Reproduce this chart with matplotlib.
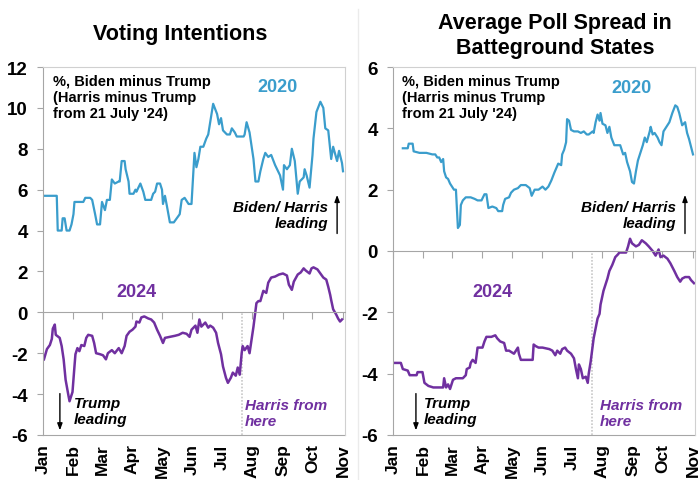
import numpy as np
import pandas as pd
import matplotlib
matplotlib.use('Agg')
import matplotlib.pyplot as plt
from matplotlib.lines import Line2D

plt.rcParams['font.family'] = ['Liberation Sans', 'DejaVu Sans']
plt.rcParams['axes.unicode_minus'] = False

BLUE = '#3A9DCC'
PURPLE = '#7030A0'
GREY = '#A6A6A6'
LIGHT = '#D0D0D0'

# x axis is days since 1 Jan (2020 and 2024 are both leap years)
month_labels = ['Jan', 'Feb', 'Mar', 'Apr', 'May', 'Jun', 'Jul', 'Aug', 'Sep', 'Oct', 'Nov']
month_starts = pd.date_range('2024-01-01', '2024-11-01', freq='MS').dayofyear - 1
harris_day = 202  # 21 July

# national voting intentions, 2020 (Biden minus Trump)
vote20_day = [0, 14, 15, 19, 20, 22, 24, 27, 29, 31,
              32, 41, 43, 48, 50, 53, 55, 58, 60, 63,
              65, 68, 70, 73, 77, 78, 80, 83, 84, 87,
              88, 92, 94, 95, 99, 102, 104, 110, 112, 114,
              116, 119, 121, 122, 124, 126, 129, 133, 136, 139,
              141, 144, 148, 151, 154, 156, 158, 160, 163, 166,
              168, 170, 173, 177, 179, 181, 183, 187, 190, 192,
              195, 197, 204, 205, 207, 210, 214, 216, 219, 221,
              224, 226, 229, 232, 236, 241, 244, 245, 248, 251,
              253, 256, 259, 261, 265, 266, 268, 271, 274, 275,
              278, 282, 285, 287, 290, 293, 295, 299, 301, 304,
              305]
vote20_val = [5.7, 5.7, 4.0, 4.0, 4.6, 4.6, 4.0, 4.0, 4.3, 4.8,
              5.4, 5.4, 5.6, 5.6, 5.5, 4.8, 4.3, 4.3, 5.4, 5.0,
              5.5, 5.5, 6.5, 6.3, 6.4, 6.4, 7.4, 7.4, 7.0, 6.4,
              5.8, 5.8, 6.0, 5.9, 6.3, 5.9, 5.5, 5.5, 5.8, 5.9,
              6.3, 6.3, 6.0, 5.3, 5.7, 5.2, 4.4, 4.4, 4.6, 4.8,
              5.5, 5.6, 5.3, 5.3, 7.8, 7.1, 7.5, 8.1, 8.1, 8.5,
              8.7, 9.3, 10.2, 9.7, 9.2, 9.5, 8.9, 8.7, 8.7, 9.0,
              8.8, 8.6, 8.6, 8.7, 9.3, 8.8, 7.5, 6.4, 6.4, 6.9,
              7.5, 7.8, 7.6, 7.7, 7.2, 6.7, 6.0, 7.2, 7.0, 7.2,
              8.0, 7.4, 5.8, 6.4, 6.6, 7.0, 6.7, 6.1, 7.7, 8.5,
              9.8, 10.3, 10.0, 9.0, 8.9, 7.5, 8.1, 7.4, 7.9, 7.3,
              6.9]

# national voting intentions, 2024 (Biden, then Harris, minus Trump)
vote24_day = [1, 4, 7, 9, 10, 12, 13, 17, 19, 21,
              23, 26, 27, 30, 32, 33, 35, 37, 39, 42,
              44, 46, 50, 52, 54, 58, 61, 64, 66, 70,
              73, 77, 80, 83, 85, 88, 91, 94, 95, 98,
              100, 103, 107, 110, 113, 116, 119, 122, 124, 129,
              134, 138, 142, 146, 149, 151, 155, 157, 159, 161,
              165, 168, 170, 173, 176, 178, 181, 183, 186, 188,
              191, 193, 196, 198, 200, 202, 203, 205, 208, 210,
              212, 214, 217, 219, 221, 224, 227, 229, 232, 236,
              240, 244, 248, 250, 253, 255, 259, 262, 265, 267,
              271, 273, 275, 279, 282, 285, 288, 290, 292, 293,
              295, 298, 300, 302, 304]
vote24_val = [-2.3, -1.8, -1.6, -1.3, -0.8, -0.6, -1.1, -1.25, -1.65, -2.3,
              -3.3, -4.1, -4.35, -3.9, -2.65, -2.05, -1.75, -1.9, -1.6, -1.65,
              -1.25, -1.1, -1.15, -1.5, -2.0, -2.05, -2.1, -2.3, -2.0, -1.85,
              -2.0, -1.75, -2.0, -1.65, -1.15, -0.95, -0.85, -0.7, -0.45, -0.5,
              -0.25, -0.2, -0.3, -0.35, -0.5, -0.85, -1.15, -1.5, -1.25, -1.2,
              -1.15, -1.1, -1.0, -1.05, -1.2, -0.85, -0.65, -1.0, -0.35, -0.7,
              -0.5, -0.75, -0.65, -0.75, -1.0, -1.5, -2.05, -2.65, -3.2, -3.45,
              -3.2, -2.95, -3.1, -2.7, -3.05, -2.0, -1.65, -1.85, -1.65, -2.0,
              -1.35, -0.7, 0.45, 0.55, 0.55, 1.05, 0.95, 1.45, 1.7, 1.75,
              1.85, 1.9, 1.8, 1.35, 1.1, 1.5, 1.85, 1.95, 2.15, 2.05,
              1.9, 2.15, 2.2, 2.1, 1.9, 1.7, 1.6, 1.25, 0.85, 0.6,
              0.15, -0.1, -0.3, -0.45, -0.35]

# battleground states poll spread, 2020
swing20_day = [10, 15, 16, 20, 21, 27, 34, 40, 43, 45,
               47, 49, 51, 52, 54, 56, 58, 60, 62, 64,
               66, 68, 69, 71, 74, 79, 83, 86, 90, 93,
               95, 97, 101, 105, 107, 111, 112, 114, 118, 120,
               123, 127, 130, 135, 139, 141, 144, 148, 152, 155,
               158, 161, 164, 166, 168, 171, 172, 174, 176, 177,
               179, 181, 184, 188, 191, 194, 197, 199, 203, 204,
               206, 208, 210, 211, 213, 216, 218, 220, 222, 225,
               228, 231, 234, 236, 238, 241, 243, 245, 247, 249,
               252, 254, 256, 258, 261, 262, 264, 266, 269, 271,
               273, 275, 279, 281, 284, 287, 289, 291, 294, 297,
               299, 301, 303, 305]
swing20_val = [3.35, 3.35, 3.5, 3.5, 3.25, 3.2, 3.2, 3.15, 3.15, 3.05,
               3.05, 2.9, 3.0, 2.6, 2.4, 2.35, 2.2, 2.1, 2.0, 2.0,
               0.75, 0.85, 1.5, 1.65, 1.75, 1.75, 1.7, 1.65, 1.65, 1.85,
               1.85, 1.4, 1.45, 1.4, 1.3, 1.3, 1.5, 1.7, 1.75, 1.9,
               2.0, 2.05, 2.15, 2.15, 2.05, 1.8, 2.0, 2.0, 2.1, 2.0,
               2.1, 2.3, 2.55, 2.7, 2.85, 2.8, 3.15, 3.3, 3.55, 4.3,
               4.25, 3.95, 3.9, 3.9, 3.85, 3.9, 3.8, 3.8, 3.9, 3.85,
               4.2, 4.45, 4.25, 4.5, 4.15, 4.1, 3.85, 4.05, 3.7, 3.45,
               3.45, 3.45, 3.15, 3.2, 2.9, 2.6, 2.25, 2.2, 2.6, 2.95,
               3.25, 3.45, 3.7, 3.55, 3.9, 4.05, 3.8, 3.85, 3.7, 3.55,
               3.45, 3.9, 4.1, 4.2, 4.5, 4.75, 4.7, 4.5, 4.1, 4.2,
               3.85, 3.65, 3.4, 3.15]

# battleground states poll spread, 2024
swing24_day = [1, 8, 10, 15, 17, 22, 24, 25, 30, 32,
               36, 41, 47, 51, 52, 54, 56, 58, 61, 64,
               71, 74, 75, 78, 79, 81, 84, 86, 91, 93,
               95, 100, 104, 106, 109, 113, 115, 118, 123, 127,
               128, 130, 142, 143, 145, 148, 152, 159, 162, 165,
               167, 170, 172, 175, 177, 181, 184, 186, 188, 189,
               191, 193, 196, 198, 199, 201, 204, 208, 210, 211,
               214, 216, 218, 220, 223, 226, 229, 230, 232, 237,
               239, 241, 243, 247, 250, 253, 257, 260, 264, 267,
               270, 272, 275, 279, 282, 286, 289, 292, 294, 297,
               301, 303, 306]
swing24_val = [-3.65, -3.65, -3.85, -3.9, -4.05, -4.05, -4.05, -3.95, -3.95, -4.3,
               -4.4, -4.45, -4.45, -4.45, -4.15, -4.45, -4.35, -4.5, -4.2, -4.15,
               -4.15, -4.05, -3.85, -3.8, -3.65, -3.55, -3.65, -3.15, -3.15, -2.95,
               -2.8, -2.8, -2.75, -2.85, -2.95, -3.0, -3.25, -3.25, -3.35, -3.15,
               -3.35, -3.55, -3.55, -3.05, -3.1, -3.15, -3.15, -3.2, -3.25, -3.4,
               -3.25, -3.35, -3.2, -3.15, -3.25, -3.35, -3.5, -3.85, -4.15, -3.7,
               -3.85, -4.15, -4.1, -4.3, -4.0, -3.6, -2.85, -2.2, -2.05, -1.75,
               -1.3, -1.1, -0.9, -0.65, -0.45, -0.2, -0.1, -0.05, -0.05, -0.05,
               0.15, 0.4, 0.25, 0.15, 0.2, 0.35, 0.25, 0.15, 0.0, -0.15,
               0.05, -0.2, -0.15, -0.25, -0.4, -0.65, -0.85, -1.0, -0.9, -0.85,
               -0.85, -0.95, -1.05]

note = "%, Biden minus Trump\n(Harris minus Trump\nfrom 21 July '24)"


def style_panel(ax, ymin, ymax):
    ax.set_xlim(0, 307)
    ax.set_ylim(ymin, ymax)
    ax.set_yticks(np.arange(ymin, ymax + 1, 2))
    ax.set_yticklabels([str(v) for v in np.arange(ymin, ymax + 1, 2)])
    ax.tick_params(axis='y', direction='out', length=4.5, width=0.8, color=GREY,
                   labelsize=13.5, pad=6.5)
    for lab in ax.get_yticklabels():
        lab.set_fontweight('bold')

    # the category axis crosses at zero, ticks hang down from it
    ax.spines['bottom'].set_position(('data', 0))
    ax.spines['bottom'].set_color(GREY)
    ax.set_xticks(month_starts)
    ax.tick_params(axis='x', direction='out', length=5, width=0.8, color=GREY,
                   labelbottom=False)
    ax.spines['left'].set_color(GREY)
    ax.spines['top'].set_color(LIGHT)
    ax.spines['right'].set_color(LIGHT)

    # month labels sit along the bottom of the plot area
    sec = ax.secondary_xaxis('bottom')
    sec.set_xticks(month_starts, month_labels)
    sec.tick_params(axis='x', length=0, pad=6, labelsize=12.5, labelrotation=90)
    for lab in sec.get_xticklabels():
        lab.set_fontweight('bold')
        lab.set_verticalalignment('top')
    sec.spines['bottom'].set_color(GREY)

    ax.vlines(harris_day, ymin, 0, colors='#C8C8C8', linestyles=(0, (1, 1)), lw=1.2)


fig = plt.figure(figsize=(7.0, 4.81), dpi=100)
ax1 = fig.add_axes([0.0614, 0.0936, 0.4314, 0.765])
ax2 = fig.add_axes([0.5614, 0.0936, 0.4314, 0.765])

style_panel(ax1, -6, 12)
style_panel(ax2, -6, 6)

ax1.plot(vote20_day, vote20_val, color=BLUE, lw=1.6)
ax1.plot(vote24_day, vote24_val, color=PURPLE, lw=1.8)
ax2.plot(swing20_day, swing20_val, color=BLUE, lw=1.6)
ax2.plot(swing24_day, swing24_val, color=PURPLE, lw=1.8)

# faint separator between the two charts
fig.add_artist(Line2D([358 / 700, 358 / 700], [0, 0.98], transform=fig.transFigure,
                      color='#EBEBEB', lw=1))

fig.text(0.257, 0.928, 'Voting Intentions', ha='center', va='center',
         fontsize=15.5, fontweight='bold')
fig.text(0.793, 0.925, 'Average Poll Spread in\nBatteground States', ha='center',
         va='center', fontsize=15.5, fontweight='bold', linespacing=1.2)

# annotations, placed in axes fractions
panels = [
    (ax1, dict(note_x=0.033, y20=(0.775, 0.948), lead_x=0.944, up_x=0.974,
               y24=(0.311, 0.391), trump_x=0.103, down_x=0.056, harris_x=0.669)),
    (ax2, dict(note_x=0.030, y20=(0.791, 0.943), lead_x=0.937, up_x=0.967,
               y24=(0.328, 0.391), trump_x=0.103, down_x=0.076, harris_x=0.685)),
]
for ax, p in panels:
    ax.text(p['note_x'], 0.982, note, transform=ax.transAxes, ha='left', va='top',
            fontsize=10.5, fontweight='bold', linespacing=1.2)
    ax.text(*p['y20'], '2020', transform=ax.transAxes, ha='center', va='center',
            fontsize=13, fontweight='bold', color=BLUE)
    ax.text(*p['y24'], '2024', transform=ax.transAxes, ha='center', va='center',
            fontsize=13, fontweight='bold', color=PURPLE)
    ax.text(p['lead_x'], 0.598, 'Biden/ Harris\nleading', transform=ax.transAxes,
            ha='right', va='center', fontsize=11, fontweight='bold', style='italic',
            linespacing=1.2)
    ax.text(p['trump_x'], 0.065, 'Trump\nleading', transform=ax.transAxes,
            ha='left', va='center', fontsize=11, fontweight='bold', style='italic',
            linespacing=1.2)
    ax.text(p['harris_x'], 0.060, 'Harris from\nhere', transform=ax.transAxes,
            ha='left', va='center', fontsize=11, fontweight='bold', style='italic',
            color=PURPLE, linespacing=1.2)
    ax.annotate('', xy=(p['up_x'], 0.66), xytext=(p['up_x'], 0.54),
                xycoords='axes fraction',
                arrowprops=dict(arrowstyle='-|>,head_length=0.4,head_width=0.15',
                                color='black', lw=1))
    ax.annotate('', xy=(p['down_x'], 0.005), xytext=(p['down_x'], 0.12),
                xycoords='axes fraction',
                arrowprops=dict(arrowstyle='-|>,head_length=0.4,head_width=0.15',
                                color='black', lw=1))

fig.savefig('out.png', dpi=100)
